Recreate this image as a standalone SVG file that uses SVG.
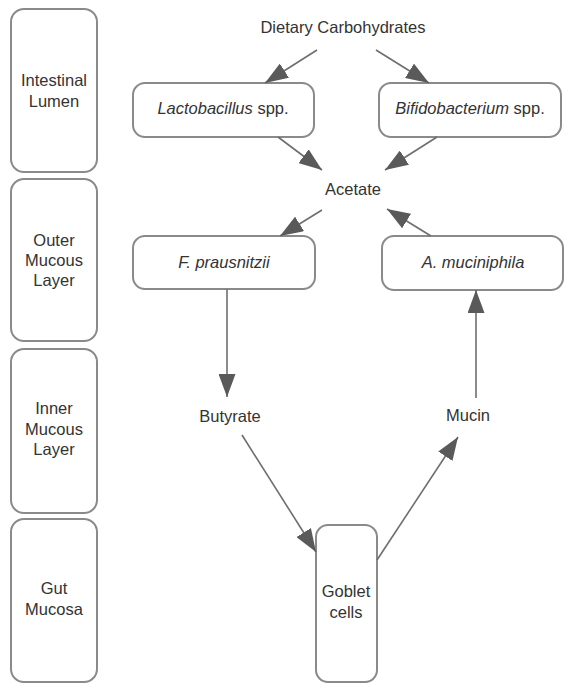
<svg xmlns="http://www.w3.org/2000/svg" width="564" height="684" viewBox="0 0 564 684">
<style>
.box{fill:#fff;stroke:#8a8a8a;stroke-width:2}
.t{font-family:"Liberation Sans",Arial,sans-serif;font-size:16.5px;fill:#333;text-anchor:middle}
.i{font-style:italic}
.c{stroke:#6e6e6e;stroke-width:1.6;fill:none;marker-end:url(#ah)}
</style>
<defs>
<marker id="ah" markerUnits="userSpaceOnUse" markerWidth="23" markerHeight="17" refX="23" refY="8.5" orient="auto" viewBox="0 0 23 17">
<path d="M0,0 L23,8.5 L0,17 z" fill="#5a5a5a"/>
</marker>
</defs>
<g id="layer-lumen"><rect class="box" x="11" y="9" width="86" height="163" rx="13"/><text class="t" x="54" y="86">Intestinal</text><text class="t" x="54" y="107">Lumen</text></g>
<g id="layer-outer"><rect class="box" x="11" y="179" width="86" height="162" rx="13"/><text class="t" x="54" y="246">Outer</text><text class="t" x="54" y="266">Mucous</text><text class="t" x="54" y="286">Layer</text></g>
<g id="layer-inner"><rect class="box" x="11" y="349" width="86" height="164" rx="13"/><text class="t" x="54" y="414">Inner</text><text class="t" x="54" y="435">Mucous</text><text class="t" x="54" y="455">Layer</text></g>
<g id="layer-mucosa"><rect class="box" x="11" y="519" width="86" height="163" rx="13"/><text class="t" x="54" y="594">Gut</text><text class="t" x="54" y="615">Mucosa</text></g>
<g id="dietary"><text class="t" x="343" y="33">Dietary Carbohydrates</text></g>
<g id="lactobacillus"><rect class="box" x="133" y="83" width="181" height="54" rx="12"/><text class="t" x="223" y="114"><tspan class="i">Lactobacillus</tspan> spp.</text></g>
<g id="bifidobacterium"><rect class="box" x="379" y="83" width="182" height="54" rx="12"/><text class="t" x="470" y="114"><tspan class="i">Bifidobacterium</tspan> spp.</text></g>
<g id="acetate"><text class="t" x="353" y="195">Acetate</text></g>
<g id="fprausnitzii"><rect class="box" x="133" y="236" width="182" height="53" rx="12"/><text class="t i" x="224" y="268">F. prausnitzii</text></g>
<g id="amuciniphila"><rect class="box" x="382" y="236" width="181" height="54" rx="12"/><text class="t i" x="473" y="268">A. muciniphila</text></g>
<g id="butyrate"><text class="t" x="230" y="422">Butyrate</text></g>
<g id="mucin"><text class="t" x="468" y="421">Mucin</text></g>
<g id="goblet"><rect class="box" x="316" y="525" width="61" height="157" rx="12"/><text class="t" x="346" y="597">Goblet</text><text class="t" x="346" y="618">cells</text></g>
<g id="connectors">
<line class="c" x1="317" y1="50" x2="265" y2="83"/>
<line class="c" x1="376" y1="50" x2="429" y2="83"/>
<line class="c" x1="278" y1="137" x2="322" y2="170"/>
<line class="c" x1="437" y1="137" x2="385" y2="170"/>
<line class="c" x1="322" y1="210" x2="280" y2="236"/>
<line class="c" x1="431" y1="236" x2="387" y2="209"/>
<line class="c" x1="227" y1="289" x2="227" y2="397"/>
<line class="c" x1="476" y1="398" x2="476" y2="290"/>
<line class="c" x1="242" y1="435" x2="316" y2="552"/>
<line class="c" x1="377" y1="560" x2="458" y2="437"/>
</g>
</svg>
